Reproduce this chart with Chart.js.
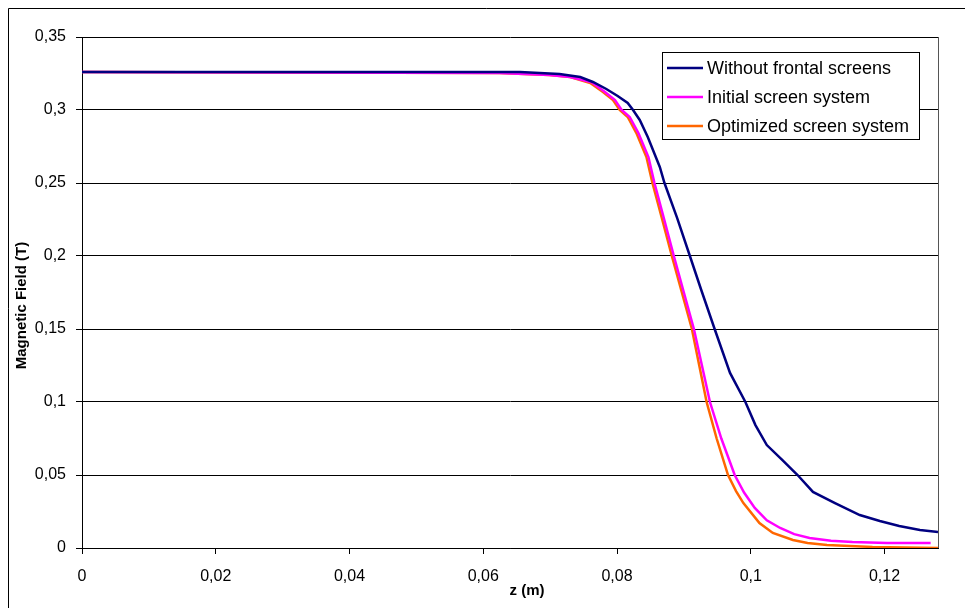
<!DOCTYPE html>
<html>
<head>
<meta charset="utf-8">
<title>Magnetic Field</title>
<script src="https://cdn.jsdelivr.net/npm/chart.js@4/dist/chart.umd.min.js"></script>
<style>
  body { margin: 0; background: #fff; }
  canvas { display: block; }
</style>
</head>
<body>
<canvas id="chart" width="965" height="608"></canvas>
<script>
// series: z in metres, field in tesla
const seriesNames = ['Without frontal screens', 'Initial screen system', 'Optimized screen system'];

const zWithout = [0, 0.0655, 0.0714, 0.0745, 0.0764, 0.0784, 0.0801, 0.0816, 0.0824, 0.0834, 0.0846, 0.0864, 0.0871, 0.0890, 0.0909, 0.0926, 0.0946, 0.0969, 0.0992, 0.1007, 0.1024, 0.1047, 0.1070, 0.1093, 0.1126, 0.1163, 0.1193, 0.1222, 0.1253, 0.128];
const bWithout = [0.326, 0.326, 0.3247, 0.3226, 0.3192, 0.3144, 0.3096, 0.3048, 0.3, 0.2932, 0.2815, 0.261, 0.25, 0.226, 0.2, 0.1767, 0.15, 0.1199, 0.1, 0.0842, 0.0705, 0.0603, 0.05, 0.0384, 0.0308, 0.0226, 0.0185, 0.0151, 0.0123, 0.011];

const zInitial = [0, 0.0624, 0.0699, 0.0730, 0.0762, 0.0782, 0.0797, 0.0807, 0.0819, 0.0832, 0.0847, 0.0856, 0.0870, 0.0885, 0.0900, 0.0915, 0.0927, 0.0939, 0.0956, 0.0976, 0.0990, 0.1006, 0.1024, 0.1044, 0.1065, 0.1088, 0.1120, 0.1152, 0.1204, 0.1269];
const bInitial = [0.326, 0.3253, 0.324, 0.3226, 0.319, 0.3123, 0.3068, 0.3, 0.2952, 0.2842, 0.2678, 0.25, 0.226, 0.2, 0.175, 0.15, 0.125, 0.1, 0.075, 0.05, 0.038, 0.0274, 0.019, 0.0137, 0.0095, 0.0068, 0.005, 0.0041, 0.0034, 0.0034];

const zOptimized = [0, 0.0624, 0.0699, 0.0730, 0.0760, 0.0779, 0.0794, 0.0804, 0.0816, 0.0829, 0.0844, 0.0853, 0.0867, 0.0882, 0.0897, 0.0912, 0.0923, 0.0934, 0.0949, 0.0966, 0.0978, 0.0989, 0.1013, 0.1033, 0.1063, 0.1085, 0.1114, 0.1182, 0.128];
const bOptimized = [0.326, 0.3253, 0.324, 0.3226, 0.3185, 0.3123, 0.3068, 0.3, 0.2952, 0.2842, 0.2678, 0.25, 0.226, 0.2, 0.175, 0.15, 0.125, 0.1, 0.075, 0.05, 0.039, 0.0308, 0.0171, 0.0103, 0.0055, 0.0035, 0.002, 0.0007, 0];

const xTicks = [0, 0.02, 0.04, 0.06, 0.08, 0.1, 0.12];
const yTicks = [0, 0.05, 0.1, 0.15, 0.2, 0.25, 0.3, 0.35];

const FONT = 'Arial, "Liberation Sans", sans-serif';

function zip(xs, ys) {
  return xs.map((x, i) => ({ x: x, y: ys[i] }));
}

function comma(v) {
  return String(v).replace('.', ',');
}

// white page, Excel style frame round the whole chart and the plot area
const frame = {
  id: 'frame',
  beforeDraw(chart) {
    const ctx = chart.ctx;
    ctx.save();
    ctx.fillStyle = '#fff';
    ctx.fillRect(0, 0, chart.width, chart.height);
    ctx.strokeStyle = '#000';
    ctx.lineWidth = 1;
    ctx.beginPath();
    ctx.moveTo(8.5, chart.height);
    ctx.lineTo(8.5, 8.5);
    ctx.lineTo(chart.width, 8.5);
    ctx.stroke();
    ctx.restore();
  },
  afterDatasetsDraw(chart) {
    const ctx = chart.ctx, a = chart.chartArea;
    ctx.save();
    ctx.strokeStyle = '#555';
    ctx.lineWidth = 1;
    ctx.beginPath();
    ctx.moveTo(Math.round(a.right) + 0.5, a.top);
    ctx.lineTo(Math.round(a.right) + 0.5, a.bottom);
    ctx.stroke();
    ctx.restore();
  }
};

// axis titles sit a little off centre in the original, so they are drawn here
const axisTitles = {
  id: 'axisTitles',
  afterDraw(chart) {
    const ctx = chart.ctx, a = chart.chartArea;
    ctx.save();
    ctx.fillStyle = '#000';
    ctx.font = 'bold 15px ' + FONT;
    ctx.textAlign = 'center';
    ctx.textBaseline = 'middle';
    ctx.fillText('z (m)', (a.left + a.right) / 2 + 17, a.bottom + 43);
    ctx.translate(22, (a.top + a.bottom) / 2 + 13);
    ctx.rotate(-Math.PI / 2);
    ctx.fillText('Magnetic Field (T)', 0, 0);
    ctx.restore();
  }
};

// boxed legend in the top right corner of the plot
const legendBox = {
  id: 'legendBox',
  afterDraw(chart) {
    const ctx = chart.ctx, a = chart.chartArea;
    const w = 257, h = 87;
    const x = Math.round(a.right) - 19 - w, y = Math.round(a.top) + 15;
    ctx.save();
    ctx.fillStyle = '#fff';
    ctx.fillRect(x, y, w, h);
    ctx.strokeStyle = '#000';
    ctx.lineWidth = 1;
    ctx.strokeRect(x + 0.5, y + 0.5, w, h);
    ctx.font = '18px ' + FONT;
    ctx.textBaseline = 'middle';
    chart.data.datasets.forEach((ds, i) => {
      const ry = y + 16 + i * 29;
      ctx.strokeStyle = ds.borderColor;
      ctx.lineWidth = 2.5;
      ctx.beginPath();
      ctx.moveTo(x + 5, ry);
      ctx.lineTo(x + 41, ry);
      ctx.stroke();
      ctx.fillStyle = '#000';
      ctx.fillText(ds.label, x + 45, ry + 1);
    });
    ctx.restore();
  }
};

const data = {
  datasets: [
    { label: seriesNames[0], data: zip(zWithout, bWithout), borderColor: '#000080' },
    { label: seriesNames[1], data: zip(zInitial, bInitial), borderColor: '#ff00ff' },
    { label: seriesNames[2], data: zip(zOptimized, bOptimized), borderColor: '#ff6600' }
  ]
};

const config = {
  type: 'line',
  data: data,
  options: {
    responsive: false,
    animation: false,
    devicePixelRatio: 1,
    layout: { padding: { left: 0, top: 37, right: 27, bottom: 0 } },
    elements: {
      line: { borderWidth: 2.5, tension: 0, fill: false },
      point: { radius: 0 }
    },
    plugins: {
      legend: { display: false },
      tooltip: { enabled: false }
    },
    scales: {
      x: {
        type: 'linear',
        min: 0,
        max: 0.128,
        afterBuildTicks: (axis) => { axis.ticks = xTicks.map(v => ({ value: v })); },
        afterFit: (axis) => { axis.height = 60; },
        grid: { drawOnChartArea: false, drawTicks: true, tickLength: 6, color: '#000' },
        border: { display: true, color: '#000', width: 1 },
        ticks: {
          color: '#000',
          font: { family: FONT, size: 16 },
          padding: 13,
          maxRotation: 0,
          callback: (v) => comma(v)
        }
      },
      y: {
        min: 0,
        max: 0.35,
        afterBuildTicks: (axis) => { axis.ticks = yTicks.map(v => ({ value: v })); },
        afterFit: (axis) => { axis.width = 82; },
        grid: { color: '#000', lineWidth: 1, drawTicks: true, tickLength: 6 },
        border: { display: true, color: '#000', width: 1 },
        ticks: {
          color: '#000',
          font: { family: FONT, size: 16 },
          padding: 10,
          callback: (v) => comma(v)
        }
      }
    }
  },
  plugins: [frame, axisTitles, legendBox]
};

new Chart(document.getElementById('chart'), config);
</script>
</body>
</html>
